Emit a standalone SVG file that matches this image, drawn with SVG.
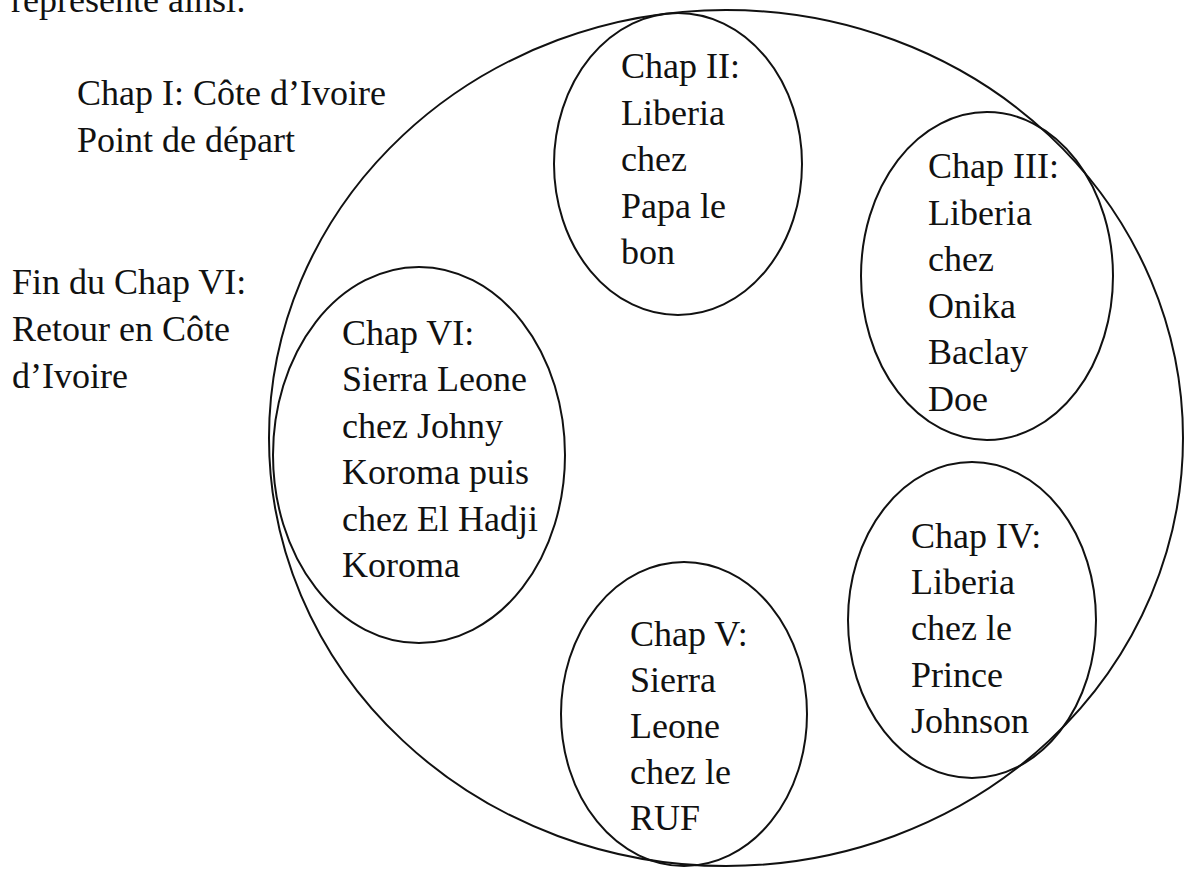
<svg xmlns="http://www.w3.org/2000/svg" width="1186" height="869" viewBox="0 0 1186 869">
<style>
text{font-family:"Liberation Serif","Times New Roman",serif;font-size:36px;fill:#111}
.e{fill:none;stroke:#111;stroke-width:2}
</style>
<rect width="1186" height="869" fill="#fff"/>
<g id="outer"><ellipse class="e" cx="726" cy="438" rx="457" ry="428"/></g>
<g id="intro"><text x="11" y="12">représente ainsi:</text></g>
<g id="chap1"><text x="77" y="105">Chap I: Côte d’Ivoire</text><text x="77" y="152">Point de départ</text></g>
<g id="fin"><text x="12" y="294">Fin du Chap VI:</text><text x="12" y="341">Retour en Côte</text><text x="12" y="388">d’Ivoire</text></g>
<g id="chap2"><ellipse class="e" cx="678" cy="164" rx="124" ry="151"/>
<text x="621" y="78">Chap II:</text><text x="621" y="124.5">Liberia</text><text x="621" y="171">chez</text><text x="621" y="217.5">Papa le</text><text x="621" y="264">bon</text></g>
<g id="chap3"><ellipse class="e" cx="987" cy="276" rx="126" ry="164"/>
<text x="928" y="178">Chap III:</text><text x="928" y="224.5">Liberia</text><text x="928" y="271">chez</text><text x="928" y="317.5">Onika</text><text x="928" y="364">Baclay</text><text x="928" y="410.5">Doe</text></g>
<g id="chap4"><ellipse class="e" cx="972" cy="620" rx="124" ry="158"/>
<text x="911" y="548">Chap IV:</text><text x="911" y="594">Liberia</text><text x="911" y="640">chez le</text><text x="911" y="687">Prince</text><text x="911" y="733">Johnson</text></g>
<g id="chap5"><ellipse class="e" cx="684" cy="714" rx="123" ry="152"/>
<text x="630" y="646">Chap V:</text><text x="630" y="692">Sierra</text><text x="630" y="738">Leone</text><text x="630" y="784">chez le</text><text x="630" y="830">RUF</text></g>
<g id="chap6"><ellipse class="e" cx="419" cy="455" rx="146" ry="188"/>
<text x="342" y="345">Chap VI:</text><text x="342" y="391">Sierra Leone</text><text x="342" y="438">chez Johny</text><text x="342" y="484">Koroma puis</text><text x="342" y="531">chez El Hadji</text><text x="342" y="577">Koroma</text></g>
<g id="connectors"></g>
</svg>
